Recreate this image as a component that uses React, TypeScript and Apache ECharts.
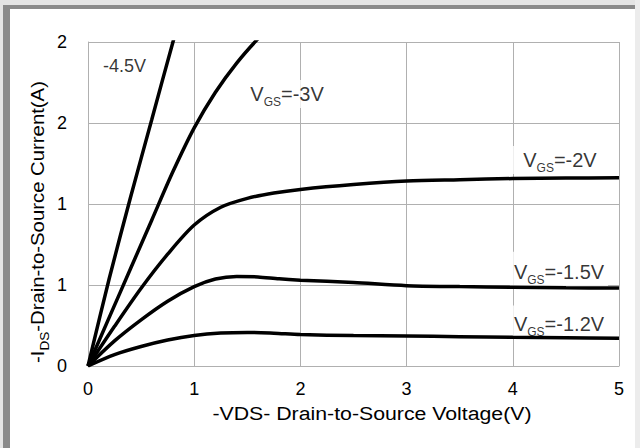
import React, { useEffect, useRef } from "react";
import * as echarts from "echarts";

// ---- data ----
const vdsTicks = [0, 1, 2, 3, 4, 5];
const idsTickLabels = ["0", "1", "1", "2", "2"]; // ticks at 0, 0.5, 1, 1.5, 2 shown rounded

const vds45 = [0, 0.2, 0.4, 0.6, 0.8, 0.9];
const ids45 = [0, 0.54, 1.04, 1.52, 2.0, 2.22];

const vds30 = [0, 0.2, 0.4, 0.6, 0.8, 1.0, 1.2, 1.4, 1.6, 1.8];
const ids30 = [0, 0.3, 0.6, 0.9, 1.2, 1.47, 1.69, 1.87, 2.02, 2.15];

const vds20 = [0, 0.25, 0.5, 0.75, 1.0, 1.25, 1.5, 1.75, 2.0, 2.5, 3.0, 3.5, 4.0, 4.5, 5.0];
const ids20 = [0, 0.245, 0.48, 0.69, 0.87, 0.98, 1.035, 1.068, 1.09, 1.12, 1.142, 1.15, 1.157, 1.16, 1.162];

const vds15 = [0, 0.25, 0.5, 0.75, 1.0, 1.2, 1.4, 1.6, 1.8, 2.0, 2.5, 3.0, 3.5, 4.0, 4.5, 5.0];
const ids15 = [0, 0.155, 0.285, 0.4, 0.49, 0.537, 0.553, 0.55, 0.538, 0.53, 0.515, 0.496, 0.49, 0.486, 0.483, 0.481];

const vds12 = [0, 0.25, 0.5, 0.75, 1.0, 1.25, 1.5, 1.75, 2.0, 2.5, 3.0, 3.5, 4.0, 4.5, 5.0];
const ids12 = [0, 0.07, 0.12, 0.16, 0.188, 0.203, 0.207, 0.202, 0.194, 0.188, 0.185, 0.181, 0.177, 0.174, 0.171];

const curveNames = ["-4.5V", "-3V", "-2V", "-1.5V", "-1.2V"];
const labelVds = [0.344, 1.874, 4.444, 4.435, 4.435];
const labelIds = [1.849, 1.679, 1.272, 0.594, 0.272];

const FONT = "'Liberation Sans', Arial, sans-serif";

const zip = (xs: number[], ys: number[]) => xs.map((x, i) => [x, ys[i]]);

export default function App() {
  const ref = useRef<HTMLDivElement>(null);

  useEffect(() => {
    const chart = echarts.init(ref.current!, null, { renderer: "svg" });

    const curves = [
      zip(vds45, ids45),
      zip(vds30, ids30),
      zip(vds20, ids20),
      zip(vds15, ids15),
      zip(vds12, ids12),
    ];

    const lineSeries = curves.map((d, i) => ({
      type: "line",
      name: curveNames[i],
      data: d,
      smooth: 0.3,
      showSymbol: false,
      symbol: "none",
      clip: true,
      lineStyle: { color: "#000", width: 3.5 },
      z: 3,
    }));

    const paddings = [
      [0, 0, 0, 0],
      [0, 2, 0, 2],
      [0, 14, 0, 14],
      [6, 4, 2, 4],
      [5, 4, 0, 4],
    ];

    const labelData = curveNames.map((n, i) => ({
      value: [labelVds[i], labelIds[i]],
      label: {
        formatter: i === 0 ? `{p|${n}}` : `{m|V}{s|GS}{m|=${n}}`,
        padding: paddings[i],
        backgroundColor: i === 0 ? "transparent" : "#fff",
      },
    }));

    const option: any = {
      animation: false,
      backgroundColor: "#fff",
      grid: { left: 88, right: 21, top: 42, bottom: 82, containLabel: false },
      xAxis: {
        type: "value",
        min: 0,
        max: 5,
        interval: 1,
        axisLine: { show: true, lineStyle: { color: "#b0b0b0", width: 1 } },
        axisTick: { show: false },
        splitLine: { show: true, lineStyle: { color: "#b0b0b0", width: 1 } },
        axisLabel: {
          color: "#000",
          fontSize: 18,
          fontFamily: FONT,
          margin: 14,
          formatter: (v: number) => String(vdsTicks[Math.round(v)] ?? v),
        },
      },
      yAxis: {
        type: "value",
        min: 0,
        max: 2,
        interval: 0.5,
        axisLine: { show: true, lineStyle: { color: "#b0b0b0", width: 1 } },
        axisTick: { show: false },
        splitLine: { show: true, lineStyle: { color: "#b0b0b0", width: 1 } },
        axisLabel: {
          color: "#000",
          fontSize: 18,
          fontFamily: FONT,
          margin: 21,
          formatter: (v: number) => idsTickLabels[Math.round(v / 0.5)] ?? String(v),
        },
      },
      series: [
        {
          type: "scatter",
          name: "labels",
          data: labelData,
          symbolSize: 1,
          itemStyle: { color: "rgba(0,0,0,0)" },
          silent: true,
          z: 2,
          label: {
            show: true,
            position: "inside",
            color: "#000",
            fontFamily: FONT,
            rich: {
              p: { fontSize: 18, fontFamily: FONT, color: "#000", lineHeight: 22 },
              m: { fontSize: 20, fontFamily: FONT, color: "#000", lineHeight: 28, verticalAlign: "middle" },
              s: { fontSize: 12, fontFamily: FONT, color: "#000", lineHeight: 12, verticalAlign: "bottom" },
            },
          },
        },
        ...lineSeries,
      ],
      graphic: [
        { type: "rect", shape: { x: 0, y: 0, width: 640, height: 5 }, style: { fill: "#e4e4e4" }, silent: true },
        { type: "rect", shape: { x: 0, y: 0, width: 3, height: 448 }, style: { fill: "#e4e4e4" }, silent: true },
        { type: "rect", shape: { x: 635, y: 0, width: 5, height: 448 }, style: { fill: "#ececec" }, silent: true },
        { type: "rect", shape: { x: 3, y: 5, width: 632, height: 4 }, style: { fill: "#8a8a8a" }, silent: true },
        { type: "rect", shape: { x: 3, y: 5, width: 7, height: 443 }, style: { fill: "#8a8a8a" }, silent: true },
        {
          type: "text",
          x: 372,
          y: 413,
          scaleX: 1.12,
          style: {
            text: "-VDS- Drain-to-Source Voltage(V)",
            fontSize: 19,
            fontFamily: FONT,
            fill: "#000",
            align: "center",
            verticalAlign: "middle",
          },
        },
        {
          type: "text",
          x: 37.5,
          y: 363,
          rotation: Math.PI / 2,
          scaleX: 1.13,
          style: {
            text: "{m|-I}{s|DS}{m|-Drain-to-Source Current(A)}",
            fontFamily: FONT,
            fontSize: 18,
            fill: "#000",
            align: "left",
            verticalAlign: "middle",
            rich: {
              m: { fontSize: 18, fontFamily: FONT, fill: "#000", lineHeight: 26, verticalAlign: "middle" },
              s: { fontSize: 12, fontFamily: FONT, fill: "#000", lineHeight: 12, verticalAlign: "bottom" },
            },
          },
        },
      ],
    };

    chart.setOption(option);
    return () => chart.dispose();
  }, []);

  return (
    <div
      ref={ref}
      style={{ position: "fixed", left: 0, top: 0, width: 640, height: 448, background: "#fff" }}
    />
  );
}
